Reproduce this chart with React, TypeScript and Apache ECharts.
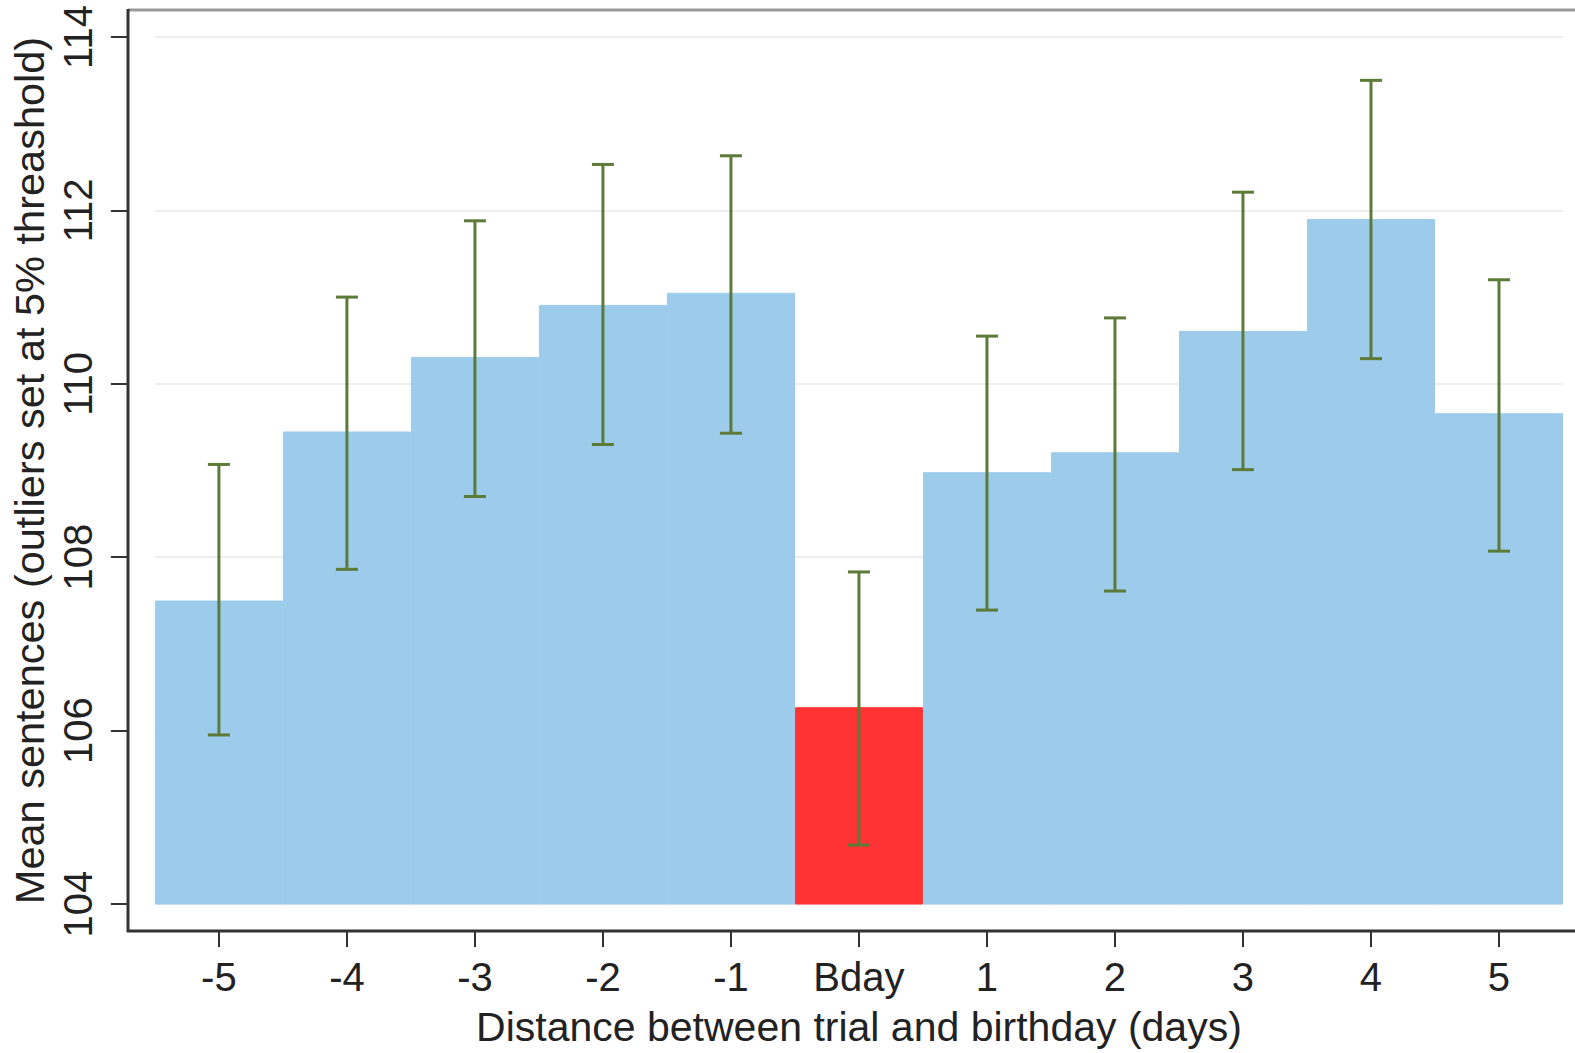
import React, { useEffect, useRef } from "react";
import * as echarts from "echarts";

const categories = ["-5", "-4", "-3", "-2", "-1", "Bday", "1", "2", "3", "4", "5"];
const meanValues = [107.5, 109.45, 110.31, 110.91, 111.05, 106.27, 108.98, 109.21, 110.61, 111.9, 109.66];
const upperValues = [109.07, 111.0, 111.88, 112.53, 112.63, 107.83, 110.55, 110.76, 112.21, 113.5, 111.2];
const lowerValues = [105.95, 107.86, 108.7, 109.3, 109.43, 104.68, 107.39, 107.61, 109.01, 110.29, 108.07];
const highlightCategory = "Bday";

const BLUE = "#9ccbeb";
const RED = "#ff3333";
const GREEN = "#5c7a38";
const FONT = "Liberation Sans, Arial, sans-serif";

export default function App() {
  const ref = useRef<HTMLDivElement>(null);

  useEffect(() => {
    if (!ref.current) return;
    const chart = echarts.init(ref.current, undefined, { renderer: "svg" });

    const barData = meanValues.map((v, i) => {
      const c = categories[i] === highlightCategory ? RED : BLUE;
      return { value: v, itemStyle: { color: c, borderColor: c, borderWidth: 1 } };
    });
    const errData = categories.map((_, i) => [i, lowerValues[i], upperValues[i]]);

    chart.setOption({
      animation: false,
      backgroundColor: "#ffffff",
      textStyle: { fontFamily: FONT },
      grid: { left: 154, right: 12, top: 37, bottom: 149, containLabel: false },
      xAxis: {
        type: "category",
        data: categories,
        offset: 27,
        axisLine: { show: false },
        axisTick: { show: true, alignWithLabel: true, length: 16, lineStyle: { color: "#333", width: 2 } },
        axisLabel: { fontSize: 40, color: "#222", margin: 26, fontFamily: FONT },
        name: "Distance between trial and birthday (days)",
        nameLocation: "middle",
        nameGap: 75,
        nameTextStyle: { fontSize: 41, color: "#222", fontFamily: FONT },
      },
      yAxis: {
        type: "value",
        min: 104,
        max: 114,
        interval: 2,
        offset: 26,
        axisLine: { show: false },
        axisTick: { show: true, length: 18, lineStyle: { color: "#333", width: 2 } },
        axisLabel: { fontSize: 40, color: "#222", rotate: 90, margin: 31, fontFamily: FONT },
        splitLine: { show: true, lineStyle: { color: "#eeeeee", width: 2 } },
        name: "Mean sentences (outliers set at 5% threashold)",
        nameLocation: "middle",
        nameGap: 74,
        nameTextStyle: { fontSize: 41.5, color: "#222", fontFamily: FONT },
      },
      graphic: [
        { type: "line", shape: { x1: 128, y1: 10, x2: 1575, y2: 10 }, style: { stroke: "#999999", lineWidth: 3 }, z: 100 },
        { type: "line", shape: { x1: 128, y1: 9, x2: 128, y2: 932 }, style: { stroke: "#333333", lineWidth: 3 }, z: 100 },
        { type: "line", shape: { x1: 127, y1: 931, x2: 1575, y2: 931 }, style: { stroke: "#333333", lineWidth: 3 }, z: 100 },
      ],
      series: [
        {
          type: "bar",
          data: barData,
          barCategoryGap: "0%",
          barGap: "0%",
          z: 2,
        },
        {
          type: "custom",
          data: errData,
          encode: { x: 0, y: [1, 2] },
          z: 5,
          renderItem: (params: any, api: any) => {
            const idx = api.value(0);
            const lo = api.coord([idx, api.value(1)]);
            const hi = api.coord([idx, api.value(2)]);
            const half = 11;
            const style = { stroke: GREEN, lineWidth: 3 };
            return {
              type: "group",
              children: [
                { type: "line", shape: { x1: lo[0], y1: lo[1], x2: hi[0], y2: hi[1] }, style },
                { type: "line", shape: { x1: hi[0] - half, y1: hi[1], x2: hi[0] + half, y2: hi[1] }, style },
                { type: "line", shape: { x1: lo[0] - half, y1: lo[1], x2: lo[0] + half, y2: lo[1] }, style },
              ],
            };
          },
        },
      ],
    });

    return () => chart.dispose();
  }, []);

  return (
    <div
      ref={ref}
      style={{ position: "absolute", left: 0, top: 0, width: 1575, height: 1053 }}
    />
  );
}
